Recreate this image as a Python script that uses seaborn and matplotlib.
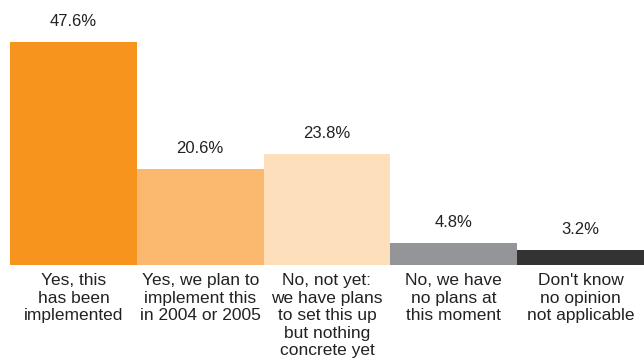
import matplotlib
matplotlib.use("Agg")
import matplotlib.pyplot as plt
import seaborn as sns
import pandas as pd

categories = [
    "Yes, this\nhas been\nimplemented",
    "Yes, we plan to\nimplement this\nin 2004 or 2005",
    "No, not yet:\nwe have plans\nto set this up\nbut nothing\nconcrete yet",
    "No, we have\nno plans at\nthis moment",
    "Don't know\nno opinion\nnot applicable",
]
values = [47.6, 20.6, 23.8, 4.8, 3.2]
value_labels = ["47.6%", "20.6%", "23.8%", "4.8%", "3.2%"]
colors = ["#F7941D", "#FBB970", "#FDDFBC", "#939598", "#333333"]

sns.set_theme(style="white")
plt.rcParams["font.family"] = ["Liberation Sans Narrow", "Liberation Sans", "DejaVu Sans"]

df = pd.DataFrame({"cat": categories, "val": values})

fig = plt.figure(figsize=(6.44, 3.6), dpi=100)
ax = fig.add_axes([10 / 644, 95 / 360, 634 / 644, 265 / 360])
sns.barplot(data=df, x="cat", y="val", hue="cat", palette=colors, width=1.0,
            legend=False, ax=ax, saturation=1, linewidth=0, edgecolor="none")

ax.set_xlim(-0.5, 4.5)
ax.set_ylim(0, 56.6)
for i, (v, t) in enumerate(zip(values, value_labels)):
    ax.text(i, v + 2.7, t, ha="center", va="bottom", fontsize=12, color="#222222")

ax.set_xlabel("")
ax.set_ylabel("")
ax.set_yticks([])
ax.tick_params(axis="x", length=0, pad=6)
ax.set_xticks(range(len(categories)))
ax.set_xticklabels(categories, fontsize=12.5, color="#222222", linespacing=1.2, va="top")
for s in ax.spines.values():
    s.set_visible(False)

fig.savefig("out.png", dpi=100)
